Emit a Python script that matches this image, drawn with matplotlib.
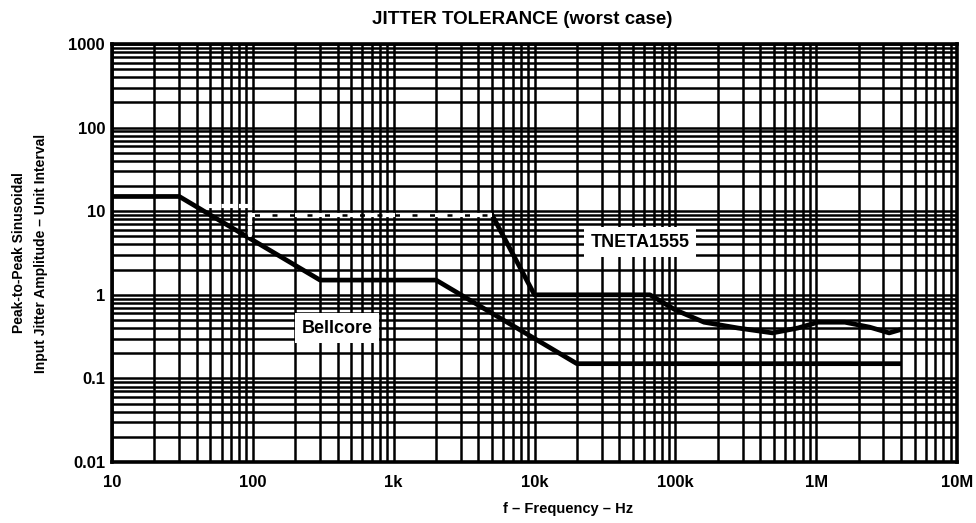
"""Jitter tolerance (worst case) chart, redrawn from the datasheet figure."""
import numpy as np
import matplotlib
matplotlib.use("Agg")
import matplotlib.pyplot as plt
from matplotlib.ticker import FixedLocator, LogLocator, NullFormatter

# Bellcore mask (Hz, UI p-p)
bell_f = [10, 30, 300, 2000, 20000, 3.9e6]
bell_ui = [15, 15, 1.5, 1.5, 0.15, 0.15]

# TNETA1555 measured tolerance, black part
tneta_f = [5.0e3, 1.0e4, 3.0e4, 6.6e4, 1.0e5, 1.6e5, 2.8e5, 4.9e5,
           7.4e5, 1.03e6, 1.6e6, 2.4e6, 3.3e6, 3.9e6]
tneta_ui = [9.0, 1.0, 1.0, 1.0, 0.66, 0.47, 0.40, 0.35,
            0.40, 0.47, 0.47, 0.41, 0.35, 0.38]

# low-frequency part of the TNETA1555 trace, printed white/dashed
tneta_lo_f = [45, 95, 95, 95, 5.0e3]
tneta_lo_ui = [11.5, 11.5, 5.2, 9.0, 9.0]

x_ticks = [10, 100, 1e3, 1e4, 1e5, 1e6, 1e7]
x_labels = ["10", "100", "1k", "10k", "100k", "1M", "10M"]
y_ticks = [0.01, 0.1, 1, 10, 100, 1000]
y_labels = ["0.01", "0.1", "1", "10", "100", "1000"]

plt.rcParams.update({
    "font.family": ["Liberation Sans", "DejaVu Sans"],
    "font.weight": "bold",
    "font.size": 10,
})

fig = plt.figure(figsize=(9.76, 5.23), dpi=100)
ax = fig.add_axes([0.1148, 0.1166, 0.9805 - 0.1148, 0.9159 - 0.1166])

ax.set_xscale("log")
ax.set_yscale("log")
ax.set_xlim(10, 1e7)
ax.set_ylim(0.01, 1000)

ax.xaxis.set_major_locator(FixedLocator(x_ticks))
ax.yaxis.set_major_locator(FixedLocator(y_ticks))
ax.xaxis.set_minor_locator(LogLocator(base=10, subs=np.arange(2, 10), numticks=20))
ax.yaxis.set_minor_locator(LogLocator(base=10, subs=np.arange(2, 10), numticks=20))
ax.xaxis.set_minor_formatter(NullFormatter())
ax.yaxis.set_minor_formatter(NullFormatter())
ax.set_xticklabels(x_labels, fontweight="bold", fontsize=12)
ax.set_yticklabels(y_labels, fontweight="bold", fontsize=12)
ax.tick_params(which="both", length=0)
ax.tick_params(axis="x", pad=9)
ax.tick_params(axis="y", pad=5)

ax.grid(which="both", color="black", lw=1.8)
for s in ax.spines.values():
    s.set_linewidth(2.6)

ax.plot(bell_f, bell_ui, color="black", lw=3.4)
ax.plot(tneta_f, tneta_ui, color="black", lw=3.4)
ax.plot(tneta_lo_f, tneta_lo_ui, color="white", lw=3.0, ls=(0, (3, 1.2)))

box = dict(facecolor="white", edgecolor="none", pad=5)
ax.text(396, 0.40, "Bellcore", ha="center", va="center", fontsize=13,
        fontweight="bold", bbox=box)
ax.text(5.6e4, 4.28, "TNETA1555", ha="center", va="center", fontsize=13,
        fontweight="bold", bbox=box)

ax.set_xlabel("f \u2013 Frequency \u2013 Hz", fontweight="bold", fontsize=10.5)
ax.xaxis.set_label_coords(0.54, -0.095)
ax.set_ylabel("Peak-to-Peak Sinusoidal\nInput Jitter Amplitude \u2013 Unit Interval",
              fontweight="bold", fontsize=10, labelpad=15, linespacing=1.7)
fig.text(0.535, 0.963, "JITTER TOLERANCE (worst case)", ha="center", va="center",
         fontsize=13.5, fontweight="bold")

fig.savefig("out.png", dpi=100)
